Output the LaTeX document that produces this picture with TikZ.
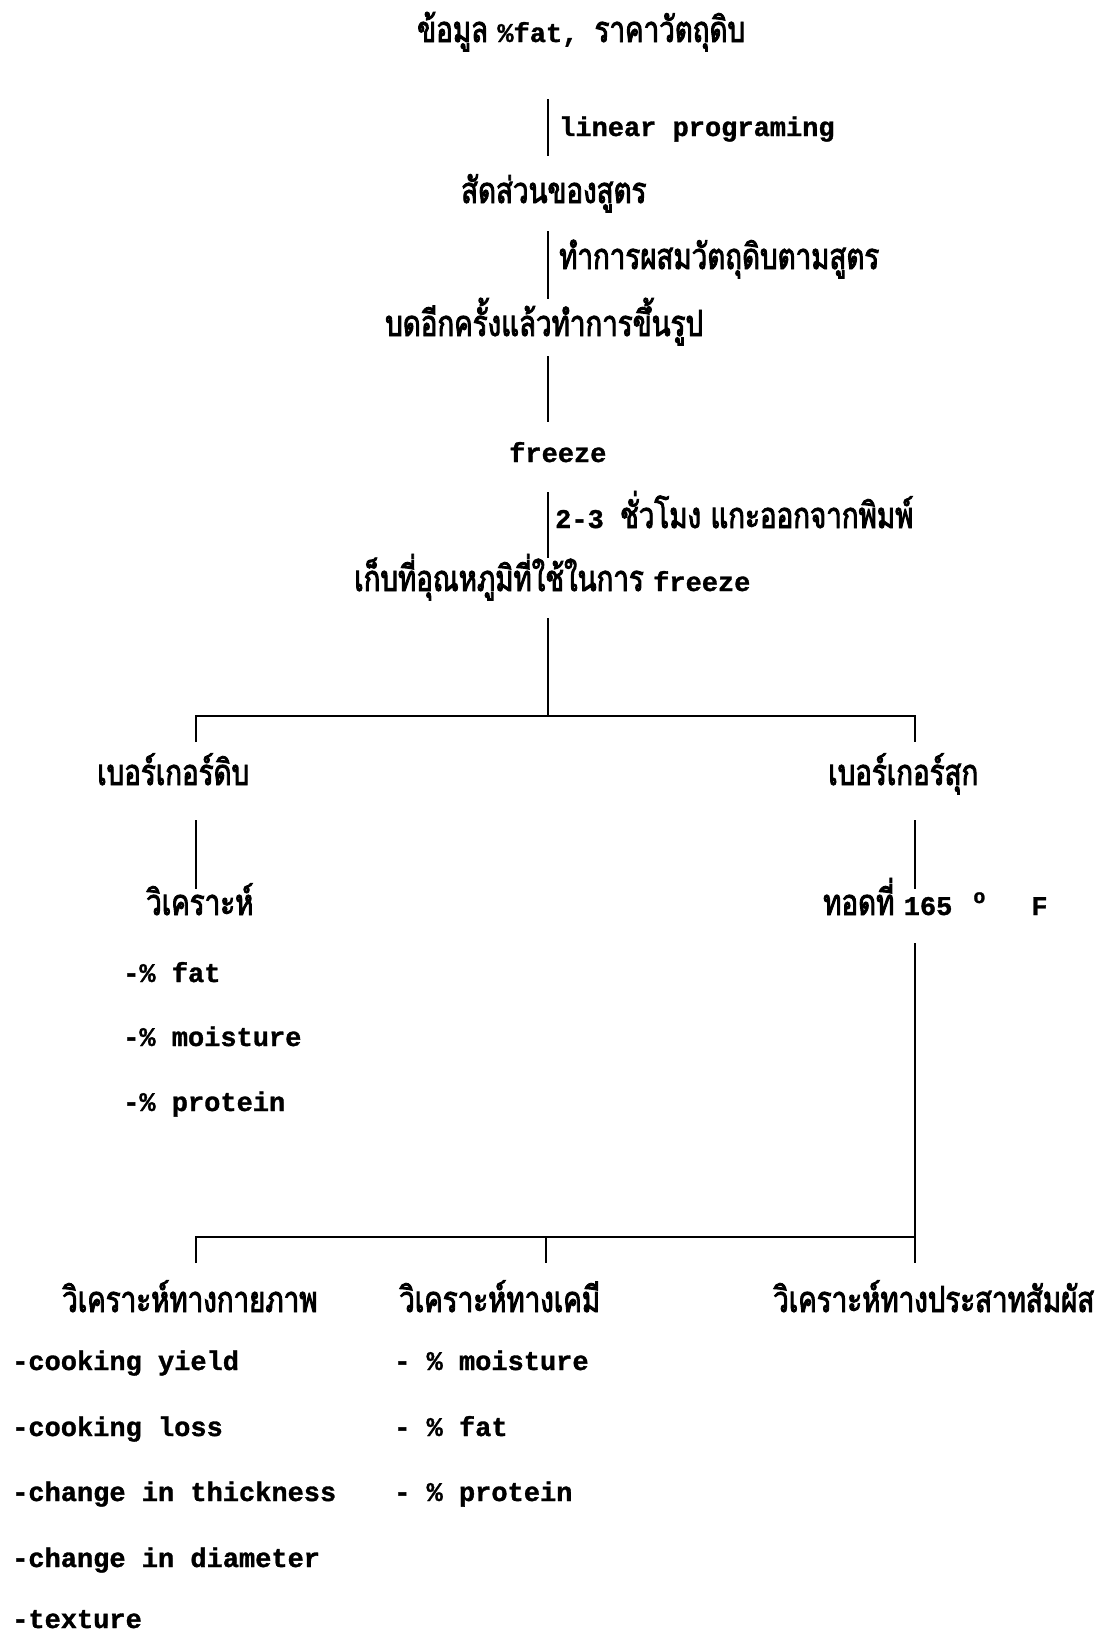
\documentclass[tikz,border=0pt]{standalone}
\usepackage{fontspec}
\newfontfamily\thf[Script=Thai,FakeStretch=0.77,FakeBold=2.5]{Loma}
\newfontfamily\latf[FakeBold=1.2]{Liberation Mono}
\newcommand{\thx}[1]{{\thf\fontsize{36}{40}\selectfont #1}}
\newcommand{\lax}[1]{{\latf\bfseries #1}}
\begin{document}
\begin{tikzpicture}[x=1pt,y=-1pt,
  txt/.style={anchor=base west,inner sep=0pt,font=\fontsize{27}{30}\selectfont},
  conn/.style={line width=2.6pt}]
\useasboundingbox (0,0) rectangle (1101,1633);
\fill[white] (0,0) rectangle (1101,1633);
% main chain
\node[txt] (t1) at (417,42) {\thx{ข้อมูล }\lax{\%fat, }\thx{ราคาวัตถุดิบ}};
\node[txt] (l1) at (559,136) {\lax{linear programing}};
\node[txt] (t2) at (461,203) {\thx{สัดส่วนของสูตร}};
\node[txt] (l2) at (559,269) {\thx{ทำการผสมวัตถุดิบตามสูตร}};
\node[txt] (t3) at (385,336) {\thx{บดอีกครั้งแล้วทำการขึ้นรูป}};
\node[txt] (t4) at (509,462) {\lax{freeze}};
\node[txt] (l4) at (555,528) {\lax{2-3 }\thx{ชั่วโมง แกะออกจากพิมพ์}};
\node[txt] (t5) at (354,591) {\thx{เก็บที่อุณหภูมิที่ใช้ในการ }\lax{freeze}};
% branches
\node[txt] (raw) at (97,785) {\thx{เบอร์เกอร์ดิบ}};
\node[txt] (ckd) at (828,785) {\thx{เบอร์เกอร์สุก}};
\node[txt] (ana) at (146,915) {\thx{วิเคราะห์}};
\node[txt] (fry) at (823,915) {\thx{ทอดที่ }\lax{165\hspace{21pt}\raisebox{12pt}{\fontsize{20}{20}\selectfont o}\hspace{46pt}F}};
\node[txt] (r1) at (123,982) {\lax{-\% fat}};
\node[txt] (r2) at (123,1046) {\lax{-\% moisture}};
\node[txt] (r3) at (123,1111) {\lax{-\% protein}};
% bottom
\node[txt] (phy) at (62,1312) {\thx{วิเคราะห์ทางกายภาพ}};
\node[txt] (che) at (399,1312) {\thx{วิเคราะห์ทางเคมี}};
\node[txt] (sen) at (773,1312) {\thx{วิเคราะห์ทางประสาทสัมผัส}};
\node[txt] (p1) at (12,1370) {\lax{-cooking yield}};
\node[txt] (p2) at (12,1436) {\lax{-cooking loss}};
\node[txt] (p3) at (12,1501) {\lax{-change in thickness}};
\node[txt] (p4) at (12,1567) {\lax{-change in diameter}};
\node[txt] (p5) at (12,1628) {\lax{-texture}};
\node[txt] (c1) at (394,1370) {\lax{- \% moisture}};
\node[txt] (c2) at (394,1436) {\lax{- \% fat}};
\node[txt] (c3) at (394,1501) {\lax{- \% protein}};
% connector coordinates
\coordinate (a1) at (548,99);  \coordinate (b1) at (548,156);
\coordinate (a2) at (548,231); \coordinate (b2) at (548,299);
\coordinate (a3) at (548,356); \coordinate (b3) at (548,422);
\coordinate (a4) at (548,492); \coordinate (b4) at (548,558);
\coordinate (a5) at (548,618); \coordinate (j5) at (548,716);
\coordinate (hl) at (196,716); \coordinate (hr) at (915,716);
\coordinate (dl) at (196,742); \coordinate (dr) at (915,742);
\coordinate (al) at (196,820); \coordinate (bl) at (196,889);
\coordinate (ar) at (915,820); \coordinate (br) at (915,889);
\coordinate (ar2) at (915,943); \coordinate (jr) at (915,1237);
\coordinate (gl) at (196,1237);
\coordinate (el) at (196,1263); \coordinate (em) at (546,1263); \coordinate (er) at (915,1263);
\coordinate (gm) at (546,1237);
\draw[conn] (a1) -- (b1);
\draw[conn] (a2) -- (b2);
\draw[conn] (a3) -- (b3);
\draw[conn] (a4) -- (b4);
\draw[conn] (a5) -- (j5);
\draw[conn] (dl) -- (hl) -- (hr) -- (dr);
\draw[conn] (al) -- (bl);
\draw[conn] (ar) -- (br);
\draw[conn] (ar2) -- (er);
\draw[conn] (el) -- (gl) -- (jr);
\draw[conn] (gm) -- (em);
\end{tikzpicture}
\end{document}
